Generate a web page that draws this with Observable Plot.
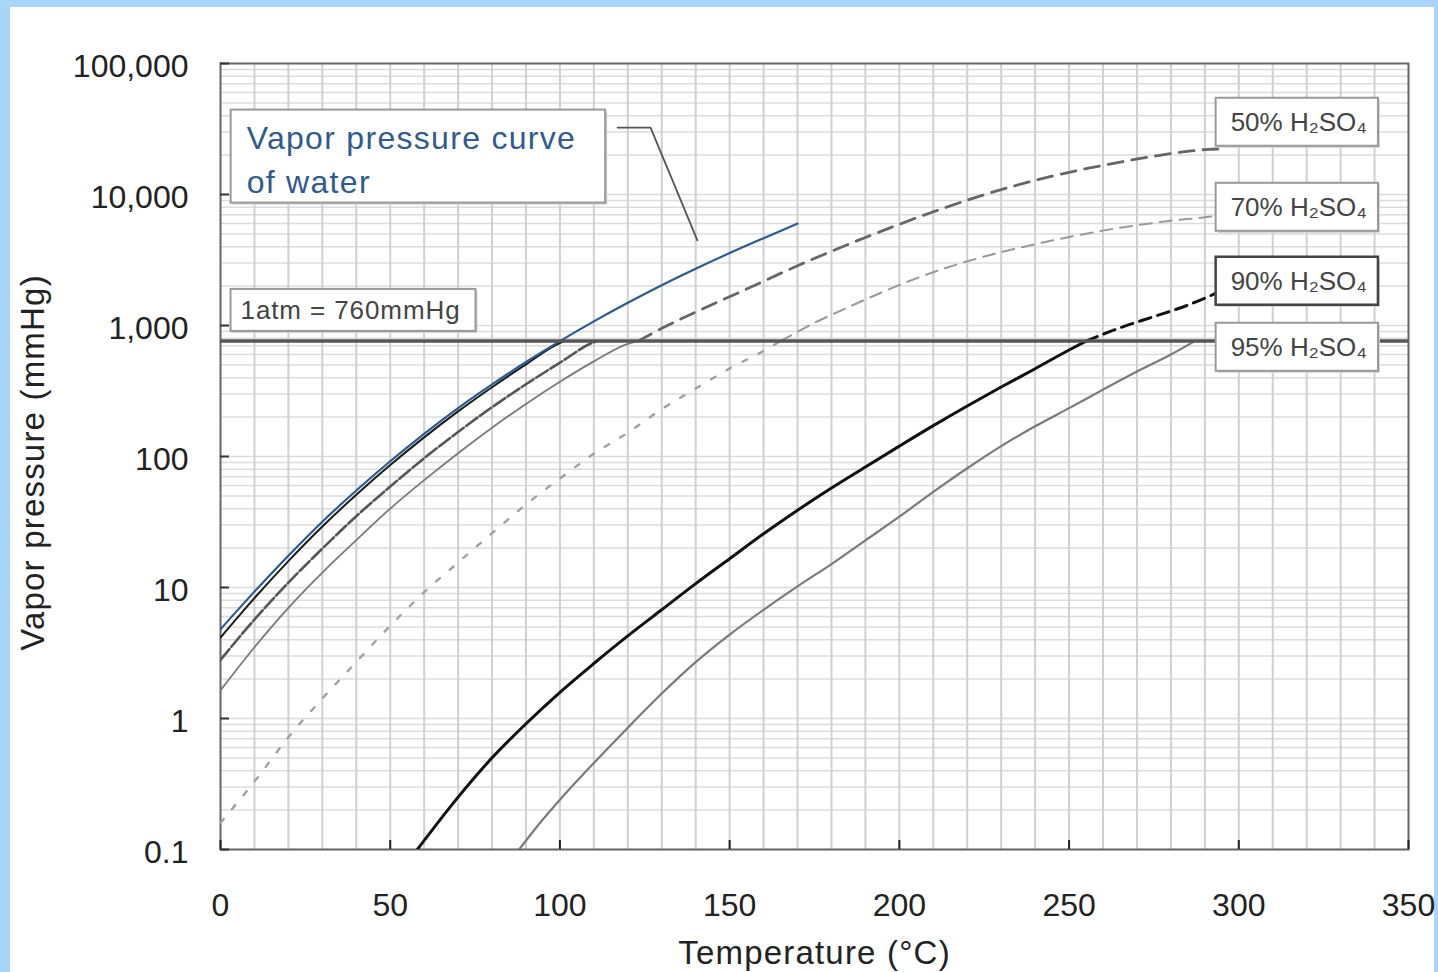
<!DOCTYPE html>
<html><head><meta charset="utf-8">
<script src="https://cdn.jsdelivr.net/npm/d3@7"></script>
<script src="https://cdn.jsdelivr.net/npm/@observablehq/plot@0.6"></script>
<style>
html,body{margin:0;padding:0;background:#a9d4fb;width:1438px;height:972px;overflow:hidden;}
#wrap{position:absolute;left:10px;top:7px;width:1424px;height:965px;background:#fff;}
</style></head><body><div id="wrap"></div>
<script>
// ---- axis ticks ----
const xTicks = [0, 50, 100, 150, 200, 250, 300, 350];
const yTicks = [0.1, 1, 10, 100, 1000, 10000, 100000];
const yTickLabels = ["0.1", "1", "10", "100", "1,000", "10,000", "100,000"];
const xTitle = "Temperature (°C)";
const yTitle = "Vapor pressure (mmHg)";
const atm = [760];

// ---- series: [temperature °C, vapor pressure mmHg] ----
const water = [[0,4.8],[10,9.3],[20,17.5],[30,31.8],[40,55],[50,92],[60,149],[70,234],[80,355],[90,526],[100,760],[110,1075],[120,1490],[130,2030],[140,2710],[150,3570],[160,4640],[170,6000]];
const acid10 = [[0,4.15],[10,8.3],[20,15.9],[30,29.2],[40,51],[50,86],[60,140],[70,221],[80,338],[90,505],[100,735],[101.5,760]];
const acid40 = [[0,2.8],[10,5.7],[20,10.9],[30,19.8],[40,35],[50,59],[60,97],[70,154],[80,238],[90,356],[100,520],[110,745],[111,760]];
const acid50Low = [[0,1.64],[10,3.5],[20,7.0],[30,13.0],[40,23],[50,40],[60,66],[70,106],[80,166],[90,252],[100,372],[110,532],[120,725],[123,760]];
const acid50High = [[123,760],[130,951],[141,1303],[154,1849],[170,2858],[190,4699],[210,7379],[230,10900],[245,13800],[260,16700],[275,19600],[290,22000],[295,22300]];
const acid70Low = [[0,0.16],[10,0.33],[20,0.72],[30,1.42],[40,2.7],[50,5.1],[60,9.2],[70,15.5],[80,26],[90,43],[100,68],[110,105],[120,152],[130,230],[140,330],[150,470],[160,640],[165,760]];
const acid70High = [[165,760],[175,1047],[185,1380],[195,1799],[205,2291],[220,3090],[230,3630],[240,4170],[250,4730],[260,5300],[270,5820],[280,6310],[290,6700],[294,6920]];
const acid90Low = [[58,0.1],[70,0.251],[80,0.501],[90,0.912],[100,1.585],[110,2.63],[120,4.27],[130,6.76],[140,10.7],[150,16.6],[160,25.7],[170,38.9],[180,57.5],[190,83.2],[200,120],[210,172],[220,243],[230,339],[240,468],[250,650],[255,760]];
const acid90High = [[255,760],[265,960],[275,1170],[285,1430],[293,1750]];
const acid95 = [[88,0.1],[95,0.17],[100,0.24],[110,0.457],[120,0.851],[130,1.55],[140,2.69],[150,4.37],[160,6.76],[170,10.2],[180,15.1],[190,22.9],[200,34.7],[210,53.7],[220,81.3],[230,120],[240,170],[250,234],[260,324],[270,445],[280,600],[287,760]];

// ---- annotations (positions in data units) ----
const waterNote = [{text: "Vapor pressure curve\nof water", x: 7.7, y: 19500}];
const atmNote = [{text: "1atm = 760mmHg", x: 5.9, y: 1300}];
const leader = [[117,32400],[126.7,32400],[140.5,4460]];
const seriesLabels = [
  {text: "50% H₂SO₄", x: 297.6, y: 35500},
  {text: "70% H₂SO₄", x: 297.6, y: 7960},
  {text: "95% H₂SO₄", x: 297.6, y: 680}
];
const seriesLabel90 = [{text: "90% H₂SO₄", x: 297.6, y: 2170}];

// grid helpers
const xGrid = d3.range(10, 350, 10);
const yGrid = [];
for (const d of [0.1, 1, 10, 100, 1000, 10000]) for (let m = 1; m <= 9; m++) yGrid.push(+(d * m).toPrecision(3));

const L = (data, opts) => Plot.line(data, {x: d => d[0], y: d => d[1], curve: "monotone-x", clip: true, ...opts});

const chart = Plot.plot({
  width: 1424,
  height: 965,
  marginLeft: 210,
  marginRight: 26,
  marginTop: 56,
  marginBottom: 123,
  style: {fontFamily: "'Liberation Sans', Arial, sans-serif", background: "#fff", overflow: "visible"},
  x: {domain: [0, 350]},
  y: {type: "log", domain: [0.1, 100000]},
  marks: [
    Plot.ruleY(yGrid, {stroke: "#dcdcdc", strokeWidth: 1.5}),
    Plot.ruleX(xGrid, {stroke: "#d0d0d0", strokeWidth: 2}),
    Plot.frame({stroke: "#666", strokeWidth: 2}),
    L(acid95, {stroke: "#7a7a7a", strokeWidth: 2.2}),
    L(acid90Low, {stroke: "#111", strokeWidth: 3}),
    L(acid90High, {stroke: "#111", strokeWidth: 3, strokeDasharray: "12,7"}),
    L(acid70Low, {stroke: "#a0a0a0", strokeWidth: 2.4, strokeDasharray: "5,13"}),
    L(acid70High, {stroke: "#9a9a9a", strokeWidth: 2, strokeDasharray: "12,8"}),
    L(acid50Low, {stroke: "#7a7a7a", strokeWidth: 1.8}),
    L(acid50High, {stroke: "#666", strokeWidth: 2.8, strokeDasharray: "15,9"}),
    L(acid40, {stroke: "#555", strokeWidth: 2.6, strokeDasharray: "14,3"}),
    L(acid10, {stroke: "#1a1a1a", strokeWidth: 2}),
    L(water, {stroke: "#2b5b8e", strokeWidth: 2.2}),
    Plot.ruleY(atm, {stroke: "#555", strokeWidth: 3.5}),
    Plot.line(leader, {x: d => d[0], y: d => d[1], stroke: "#555", strokeWidth: 1.8}),
    Plot.axisX({ticks: xTicks, tickSize: -9, tickPadding: 53, fontSize: 32, color: "#222", strokeWidth: 2, label: null}),
    Plot.axisY({ticks: yTicks, tickSize: -9, tickFormat: () => "", strokeWidth: 2, color: "#333", label: null}),
    Plot.axisY({ticks: yTicks, tickSize: 0, tickPadding: 32, dy: 3, fontSize: 32, color: "#222", label: null,
      tickFormat: d => yTickLabels[yTicks.indexOf(d)]}),
    Plot.text([xTitle], {frameAnchor: "bottom", lineAnchor: "middle", textAnchor: "middle", dy: 104, fontSize: 33, fill: "#222", ariaDescription: "title-x"}),
    Plot.text([yTitle], {frameAnchor: "left", textAnchor: "middle", lineAnchor: "middle", rotate: -90, dx: -187, dy: 6, fontSize: 33, fill: "#222", ariaDescription: "title-y"}),
    Plot.text(waterNote, {x: "x", y: "y", text: "text", textAnchor: "start", lineHeight: 1.375, fontSize: 32, fill: "#2f5b8d", ariaDescription: "box-vapor"}),
    Plot.text(atmNote, {x: "x", y: "y", text: "text", textAnchor: "start", fontSize: 26, fill: "#444", ariaDescription: "box-atm"}),
    Plot.text(seriesLabels, {x: "x", y: "y", text: "text", textAnchor: "start", fontSize: 26, fill: "#444", ariaDescription: "box-label"}),
    Plot.text(seriesLabel90, {x: "x", y: "y", text: "text", textAnchor: "start", fontSize: 26, fill: "#444", ariaDescription: "box-label90"})
  ]
});
document.getElementById("wrap").append(chart);

const root = d3.select(chart);
root.selectAll("g[aria-description^='title-'] text").style("letter-spacing", "1.2px");
root.selectAll("g[aria-description='box-vapor'] text").style("letter-spacing", "1.3px");
root.selectAll("g[aria-description='box-atm'] text").style("letter-spacing", "0.9px");

const pads = {"box-vapor": [10, 29, 3, 16], "box-atm": [6, 15, 6, 10], "box-label": [9, 11, 9, 15], "box-label90": [9, 11, 9, 15]};
const NS = "http://www.w3.org/2000/svg";
const boxTexts = [];
root.selectAll("g[aria-description^='box-']").each(function () {
  const key = this.getAttribute("aria-description");
  d3.select(this).selectAll("text").each(function () { boxTexts.push([this, key]); });
});
for (const [t, key] of boxTexts) {
  const [pt, pr, pb, pl] = pads[key];
  const strong = key === "box-label90";
  const b = t.getBBox();
  const tr = t.getAttribute("transform");
  const mk = (off, fill, stroke, sw) => {
    const r = document.createElementNS(NS, "rect");
    r.setAttribute("x", b.x - pl + off);
    r.setAttribute("y", b.y - pt + off);
    r.setAttribute("width", b.width + pl + pr);
    r.setAttribute("height", b.height + pt + pb);
    r.setAttribute("fill", fill);
    r.setAttribute("stroke", stroke);
    r.setAttribute("stroke-width", sw);
    if (tr) r.setAttribute("transform", tr);
    t.parentNode.insertBefore(r, t);
  };
  mk(2, "#cfcfcf", "none", 0);
  mk(0, "#fff", strong ? "#444" : "#999", strong ? 2.5 : 2);
}
</script></body></html>
